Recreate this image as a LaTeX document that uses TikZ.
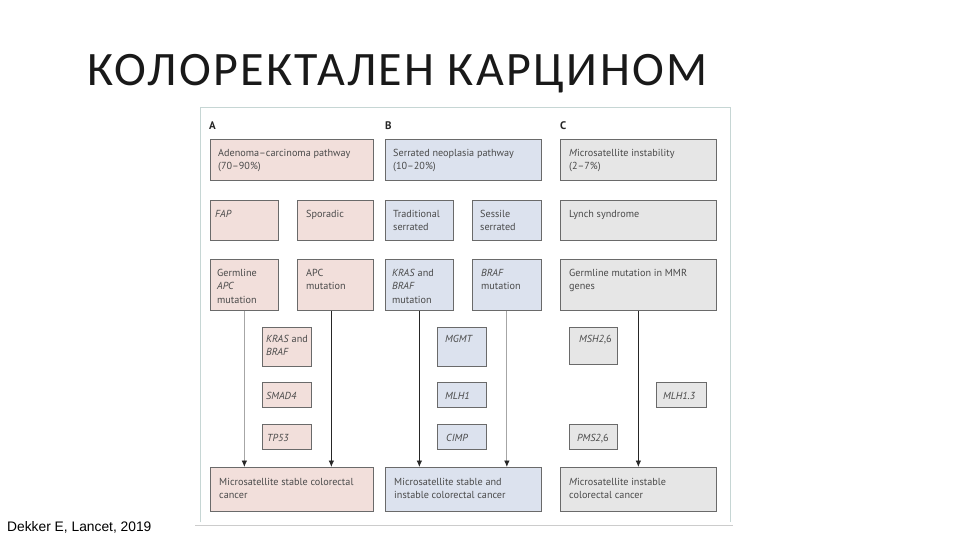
\documentclass[tikz,border=0pt]{standalone}
\usepackage{fontspec}
\setmainfont{PT Sans}
\newfontfamily\titlefont[LetterSpace=5]{Carlito}
\newfontfamily\footfont{Liberation Sans}
\usetikzlibrary{arrows.meta,calc}
\definecolor{pinkf}{HTML}{F2DFDB}
\definecolor{bluef}{HTML}{DCE2EE}
\definecolor{grayf}{HTML}{E6E6E6}
\definecolor{edge}{HTML}{6A6A6A}
\definecolor{txtc}{HTML}{4A4A4A}
\definecolor{frame}{HTML}{C6D6D4}
\tikzset{
  box/.style={draw=edge,line width=0.7pt,rectangle,inner sep=0pt},
  txt/.style={inner sep=0pt,align=left,text=txtc,font=\fontsize{10.2}{13.6}\selectfont},
  lab/.style={inner sep=0pt,anchor=west,text=black!85,font=\fontsize{11}{13}\selectfont\bfseries},
  darkarrow/.style={draw=black!85,line width=0.8pt,-{Latex[length=6.5pt,width=5.5pt]}},
  lightarrow/.style={draw=black!35,line width=0.8pt,-{Latex[length=6.5pt,width=5.5pt,color=black!85]}},
  framel/.style={draw=frame,line width=0.9pt}
}
\newcommand\bx[9]{%
  \node[box,fill=#6,minimum width=#4,minimum height=#5,anchor=north west] (#1) at (#2,#3) {};
  \node[txt,anchor=north west] (#1t) at ([xshift=#7,yshift=9-#8]#1.north west) {\rule{0pt}{9pt}#9};}
\begin{document}
\begin{tikzpicture}[x=1pt,y=-1pt]
\useasboundingbox[fill=white] (0,0) rectangle (960,540);
% title and footer
\node[anchor=west,inner sep=0pt,font=\titlefont\fontsize{48}{58}\selectfont,text=black!90] (title) at (87,74) {КОЛОРЕКТАЛЕН КАРЦИНОМ};
\node[anchor=west,inner sep=0pt,font=\footfont\fontsize{13.8}{16}\selectfont,text=black] (foot) at (7,527) {Dekker E, Lancet, 2019};
% frame
\coordinate (f1) at (200,522);
\coordinate (f2) at (200,107);
\coordinate (f3) at (730,107);
\coordinate (f4) at (730,522);
\coordinate (f5) at (195,525.5);
\coordinate (f6) at (733,525.5);
\draw[framel] (f1) -- (f2) -- (f3) -- (f4);
\draw[draw=black!20,line width=0.9pt] (f5) -- (f6);
% labels
\node[lab] (la) at (209,126) {A};
\node[lab] (lb) at (385,126) {B};
\node[lab] (lc) at (560,126) {C};
% column A
\bx{a1}{210}{139}{163}{41}{pinkf}{8}{17}{Adenoma–carcinoma pathway\\(70–90\%)}
\bx{a2}{210}{200}{68}{40}{pinkf}{5}{17}{\itshape FAP}
\bx{a3}{297}{200}{76}{40}{pinkf}{9}{17}{Sporadic}
\bx{a4}{210}{259}{68}{51}{pinkf}{7}{17}{Germline\\\textit{APC}\\mutation}
\bx{a5}{297}{259}{76}{51}{pinkf}{9}{17}{APC\\mutation}
\bx{a6}{262}{327}{49}{39}{pinkf}{4}{15}{\textit{KRAS} and\\\textit{BRAF}}
\bx{a7}{262}{382}{49}{25}{pinkf}{4}{17}{\textit{SMAD4}}
\bx{a8}{262}{424}{49}{25}{pinkf}{5}{17}{\textit{TP53}}
\bx{a9}{210}{467}{163}{44}{pinkf}{9}{18}{Microsatellite stable colorectal\\cancer}
% column B
\bx{b1}{385}{139}{156}{41}{bluef}{8}{17}{Serrated neoplasia pathway\\(10–20\%)}
\bx{b2}{385}{200}{68}{40}{bluef}{8}{17}{Traditional\\serrated}
\bx{b3}{472}{200}{69}{40}{bluef}{8}{17}{Sessile\\serrated}
\bx{b4}{385}{259}{68}{51}{bluef}{7}{17}{\textit{KRAS} and\\\textit{BRAF}\\mutation}
\bx{b5}{472}{259}{69}{51}{bluef}{9}{17}{\textit{BRAF}\\mutation}
\bx{b6}{437}{327}{49}{39}{bluef}{8}{15}{\textit{MGMT}}
\bx{b7}{437}{382}{49}{25}{bluef}{8}{17}{\textit{MLH1}}
\bx{b8}{437}{424}{49}{25}{bluef}{9}{17}{\textit{CIMP}}
\bx{b9}{385}{467}{156}{44}{bluef}{9}{18}{Microsatellite stable and\\instable colorectal cancer}
% column C
\bx{c1}{560}{139}{156}{41}{grayf}{9}{17}{\textit{M}icrosatellite instability\\(2–7\%)}
\bx{c2}{560}{200}{156}{40}{grayf}{9}{17}{Lynch syndrome}
\bx{c3}{560}{259}{156}{51}{grayf}{9}{17}{Germline mutation in MMR\\genes}
\bx{c4}{569}{327}{48}{37}{grayf}{10}{15}{\textit{MSH2},6}
\bx{c5}{656}{382}{50}{25}{grayf}{7}{17}{\textit{MLH1.3}}
\bx{c6}{569}{424}{48}{25}{grayf}{8}{17}{\textit{PMS2},6}
\bx{c7}{560}{467}{156}{44}{grayf}{9}{18}{\textit{M}icrosatellite instable\\colorectal cancer}
% arrows
\coordinate (a5s) at ([xshift=-4]a5.south);
\draw[lightarrow] (a4.south) -- (a9.north -| a4.south);
\draw[darkarrow] (a5s) -- (a9.north -| a5s);
\draw[darkarrow] (b4.south) -- (b9.north -| b4.south);
\draw[lightarrow] (b5.south) -- (b9.north -| b5.south);
\draw[darkarrow] (c3.south) -- (c7.north -| c3.south);
\end{tikzpicture}
\end{document}
